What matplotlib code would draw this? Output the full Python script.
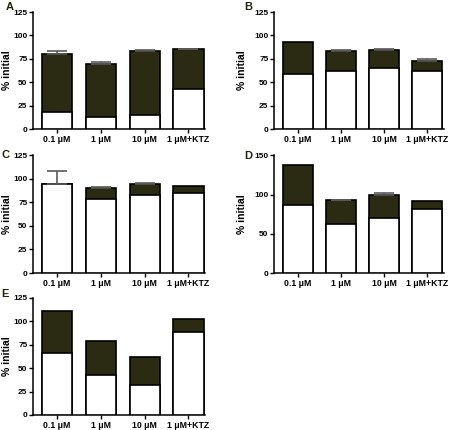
import matplotlib

matplotlib.use("Agg")
import matplotlib.pyplot as plt

plt.rcParams["font.family"] = ["Liberation Sans", "DejaVu Sans"]
plt.rcParams["font.weight"] = "bold"

categories = ["0.1 \u03bcM", "1 \u03bcM", "10 \u03bcM", "1 \u03bcM+KTZ"]

# total height of each bar, the white (lower) part, and the upper error
total_a = [80, 70, 83.5, 85]
white_a = [18.5, 12.5, 15, 43]
err_a = [3, 2, 1, 1]

total_b = [92.5, 83.5, 84.5, 73]
white_b = [58.5, 62, 65, 62.5]
err_b = [0, 1, 1.5, 1.5]

total_c = [94.5, 90, 94.5, 92]
white_c = [94.5, 78.5, 82.5, 85]
err_c = [13.5, 1, 1, 0]

total_d = [137, 92.5, 99.5, 91.5]
white_d = [87, 63, 70.5, 81]
err_d = [0, 1, 2.5, 0]

total_e = [111, 79.5, 61.5, 103]
white_e = [66.5, 42.5, 31.5, 89]
err_e = [0, 0, 0, 0]

W, H = 454, 430
# label, data, y max, y step, axes rect, letter position (pixels), ylabel x (axes frac)
panels = [
    ("A", total_a, white_a, err_a, 125, 25, [0.0727, 0.700, 0.379, 0.272], (10, 7), -0.12),
    ("B", total_b, white_b, err_b, 125, 25, [0.6035, 0.700, 0.374, 0.272], (248, 7), -0.16),
    ("C", total_c, white_c, err_c, 125, 25, [0.0727, 0.365, 0.379, 0.274], (5, 155), -0.12),
    ("D", total_d, white_d, err_d, 150, 50, [0.6035, 0.365, 0.374, 0.274], (248, 156), -0.16),
    ("E", total_e, white_e, err_e, 125, 25, [0.0727, 0.035, 0.379, 0.272], (5, 294), -0.12),
]

dark = "#2b2a13"
fig = plt.figure(figsize=(W / 100, H / 100), dpi=100)

for label, total, white, err, ymax, step, rect, pos, ylab_x in panels:
    ax = fig.add_axes(rect)
    x = range(len(categories))
    ax.bar(x, total, width=0.69, color=dark, edgecolor="black", linewidth=1.2, zorder=2)
    ax.bar(x, white, width=0.69, color="white", edgecolor="black", linewidth=1.2, zorder=3)
    for xi, top, e in zip(x, total, err):
        if e > 0:
            ax.errorbar(xi, top, yerr=[[0], [e]], color="#5a5a5a", capsize=7,
                        elinewidth=1.2, capthick=1.2, zorder=4)
    ax.set_xlim(-0.55, 3.38)
    ax.set_ylim(0, ymax)
    ax.set_yticks(range(0, ymax + 1, step))
    ax.set_xticks(list(x))
    ax.set_xticklabels(categories)
    ax.spines["top"].set_visible(False)
    ax.spines["right"].set_visible(False)
    ax.spines["left"].set_linewidth(1.1)
    ax.spines["bottom"].set_linewidth(1.1)
    ax.tick_params(axis="x", labelsize=6.3, length=3, width=1, pad=1.5)
    ax.tick_params(axis="y", labelsize=6, length=3, width=1, pad=1)
    ax.set_ylabel("% initial", fontsize=7.5, fontweight="bold")
    ax.yaxis.set_label_coords(ylab_x, 0.5)
    fig.text(pos[0] / W, 1 - pos[1] / H, label, fontsize=8,
             fontweight="bold", color="#222211", ha="center", va="center")

fig.savefig("out.png", dpi=100)
